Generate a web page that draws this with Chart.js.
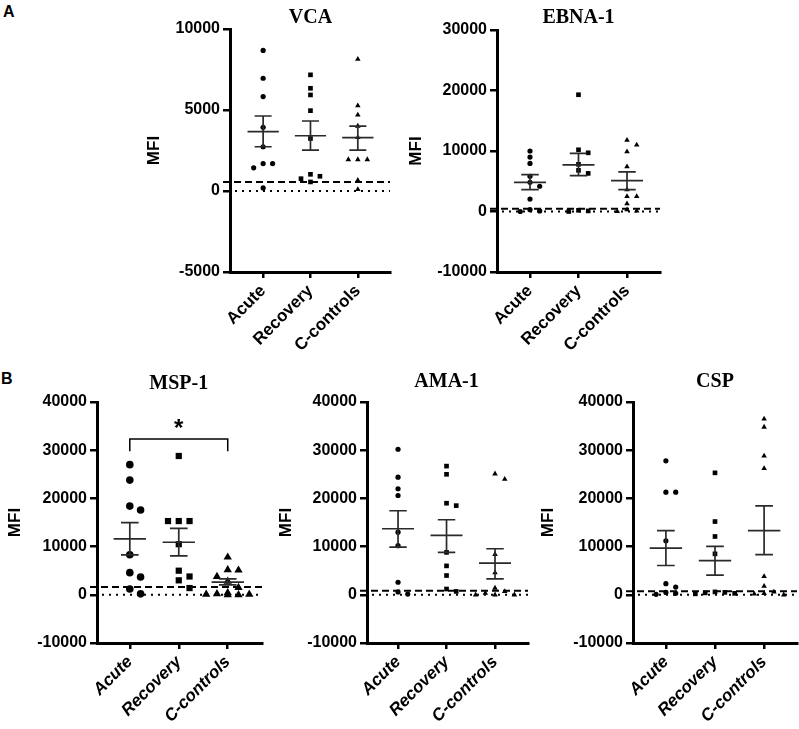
<!DOCTYPE html>
<html>
<head>
<meta charset="utf-8">
<script src="https://cdn.jsdelivr.net/npm/chart.js@4.4.1/dist/chart.umd.min.js"></script>
<style>
  body { margin: 0; background: #fff; width: 799px; height: 729px; overflow: hidden; position: relative; }
  canvas { position: absolute; }
  .letter { position: absolute; font: bold 16px "Liberation Sans", Arial, sans-serif; line-height: 16px; color: #000; }
</style>
</head>
<body>
<div class="letter" style="left:3px;top:4px">A</div>
<div class="letter" style="left:1px;top:371px">B</div>
<canvas id="vca"></canvas>
<canvas id="ebna"></canvas>
<canvas id="msp"></canvas>
<canvas id="ama"></canvas>
<canvas id="csp"></canvas>
<script>
const groups = ["Acute", "Recovery", "C-controls"];

// VCA
const vcaAcute = [8680, 6960, 5830, 3930, 2730, 1690, 1690, 1430, 190];
const vcaRecovery = [7170, 6340, 5930, 4960, 3240, 1030, 910, 760, 560];
const vcaControls = [8140, 5270, 4690, 4010, 3310, 1940, 1940, 1940, 660, 100];
const vcaMean = [3660, 3410, 3290];
const vcaSemHigh = [4630, 4320, 4010];
const vcaSemLow = [2730, 2520, 2520];
const vcaCutoff = 560;

// EBNA-1
const ebnaAcute = [10000, 9000, 7940, 5830, 4830, 4170, 2060, 300, 100, 0];
const ebnaRecovery = [19300, 10200, 9700, 7800, 6800, 6300, 200, 100, 0];
const ebnaControls = [11800, 11000, 9900, 7400, 3600, 2500, 2500, 1300, 300, 100, 0];
const ebnaMean = [4830, 7720, 5110];
const ebnaSemHigh = [6110, 9610, 6560];
const ebnaSemLow = [3610, 5940, 3610];
const ebnaCutoff = 450;

// MSP-1
const mspAcute = [27000, 23800, 18400, 17600, 8300, 4600, 3700, 1200, 200];
const mspRecovery = [28800, 15300, 15300, 15300, 10500, 5000, 3800, 3000, 1400];
const mspControls = [7800, 5200, 5100, 3800, 2800, 1500, 400, 200, 100, 100, 0, 0];
const mspMean = [11590, 10900, 2620];
const mspSemHigh = [14970, 13790, 3310];
const mspSemLow = [8280, 8070, 2070];
const mspCutoff = 1600;
const mspBracket = { from: 1, to: 3, top: 32300, leg: 29800, label: "*", labelAt: 35200 };

// AMA-1
const amaAcute = [30200, 24400, 22000, 20600, 13000, 10200, 2600, 600, 150];
const amaRecovery = [26700, 25000, 19000, 18500, 8800, 6000, 4000, 1200, 700];
const amaControls = [25100, 24000, 8400, 4600, 1400, 700, 350, 0, 0, 0];
const amaMean = [13700, 12320, 6570];
const amaSemHigh = [17440, 15570, 9550];
const amaSemLow = [9900, 8790, 3320];
const amaCutoff = 830;

// CSP
const cspAcute = [27800, 21300, 21300, 11200, 2300, 1600, 500, 300, 100];
const cspRecovery = [25300, 15200, 12100, 8500, 600, 500, 400, 300, 200];
const cspControls = [36500, 34800, 28800, 26200, 3800, 1800, 600, 300, 200, 0];
const cspMean = [9690, 7100, 13310];
const cspSemHigh = [13310, 10030, 18430];
const cspSemLow = [6080, 4100, 8330];
const cspCutoff = 750;

const shapes = ["circle", "rect", "triangle"];
const sans = "'Liberation Sans', Arial, sans-serif";
const tickFont = { family: sans, weight: "bold", size: 16 };

// simple beeswarm: spread points sideways when they would overlap
function swarm(values, step, thresh) {
  const offsets = [0, step, -step, 2 * step, -2 * step];
  const placed = [];
  return values.map((v) => {
    let best = 0, bestGap = -1;
    for (const o of offsets) {
      let gap = Infinity;
      for (const p of placed) if (p.o === o) gap = Math.min(gap, Math.abs(p.v - v));
      if (gap >= thresh) { best = o; break; }
      if (gap > bestGap) { bestGap = gap; best = o; }
    }
    placed.push({ o: best, v: v });
    return best;
  });
}

const markers = {
  id: "markers",
  beforeDatasetsDraw(chart, args, o) {
    const { ctx, chartArea: a, scales: { y } } = chart;
    ctx.save();
    ctx.strokeStyle = "#000";
    ctx.lineWidth = 2;
    ctx.setLineDash([2, 5]);
    const y0 = y.getPixelForValue(0);
    ctx.beginPath(); ctx.moveTo(a.left + 5, y0); ctx.lineTo(a.right, y0); ctx.stroke();
    ctx.setLineDash([7, 4]);
    const yc = y.getPixelForValue(o.cutoff);
    ctx.beginPath(); ctx.moveTo(a.left - 7, yc); ctx.lineTo(a.right, yc); ctx.stroke();
    ctx.restore();
  },
  afterDatasetsDraw(chart, args, o) {
    const { ctx, scales: { x, y } } = chart;
    ctx.save();
    ctx.strokeStyle = "#2a2a2a";
    ctx.lineWidth = 1.7;
    o.mean.forEach((m, i) => {
      const c = i + 1;
      const ym = y.getPixelForValue(m), yh = y.getPixelForValue(o.high[i]), yl = y.getPixelForValue(o.low[i]);
      ctx.beginPath();
      ctx.moveTo(x.getPixelForValue(c - 0.33), ym); ctx.lineTo(x.getPixelForValue(c + 0.33), ym);
      ctx.moveTo(x.getPixelForValue(c), yh); ctx.lineTo(x.getPixelForValue(c), yl);
      ctx.moveTo(x.getPixelForValue(c - 0.18), yh); ctx.lineTo(x.getPixelForValue(c + 0.18), yh);
      ctx.moveTo(x.getPixelForValue(c - 0.18), yl); ctx.lineTo(x.getPixelForValue(c + 0.18), yl);
      ctx.stroke();
    });
    if (o.bracket) {
      const b = o.bracket;
      const x1 = x.getPixelForValue(b.from), x2 = x.getPixelForValue(b.to);
      const yt = y.getPixelForValue(b.top), yl = y.getPixelForValue(b.leg);
      ctx.strokeStyle = "#000";
      ctx.lineWidth = 1.5;
      ctx.beginPath();
      ctx.moveTo(x1, yl); ctx.lineTo(x1, yt); ctx.lineTo(x2, yt); ctx.lineTo(x2, yl);
      ctx.stroke();
      ctx.fillStyle = "#000";
      ctx.font = "bold 24px " + sans;
      ctx.textAlign = "center";
      ctx.textBaseline = "middle";
      ctx.fillText(b.label, (x1 + x2) / 2, y.getPixelForValue(b.labelAt) + 4);
    }
    ctx.fillStyle = "#000";
    ctx.font = "bold 20px 'Liberation Serif'";
    ctx.textAlign = "center";
    ctx.textBaseline = "middle";
    ctx.fillText(o.title, x.getPixelForValue(2), o.titleY);
    ctx.restore();
  },
};

function drawPanel(id, p) {
  const canvas = document.getElementById(id);
  canvas.width = p.width;
  canvas.height = p.height;
  canvas.style.left = p.left + "px";
  canvas.style.top = p.top + "px";
  const a = p.area;
  const half = 10;
  const yWidth = a.l - p.mfiX + half;
  const xHeight = p.top + p.height - a.b;
  const thresh = (p.dot * (p.yMax - p.yMin)) / (a.b - a.t);

  const datasets = p.series.map((vals, i) => {
    const offs = swarm(vals, p.step, thresh);
    return {
      data: vals.map((v, j) => ({ x: i + 1 + offs[j], y: v })),
      pointStyle: shapes[i],
      pointRadius: p.radius[i],
      pointHoverRadius: p.radius[i],
      backgroundColor: "#000",
      borderColor: "#000",
      borderWidth: 0,
    };
  });

  new Chart(canvas, {
    type: "scatter",
    data: { datasets: datasets },
    plugins: [markers],
    options: {
      responsive: false,
      animation: false,
      layout: { padding: { left: p.mfiX - half - p.left, top: a.t - p.top, right: p.left + p.width - a.r, bottom: 0 } },
      plugins: {
        legend: { display: false },
        title: { display: false },
        tooltip: { enabled: false },
        markers: {
          title: p.title,
          titleY: p.titleY - p.top,
          cutoff: p.cutoff,
          mean: p.mean,
          high: p.high,
          low: p.low,
          bracket: p.bracket,
        },
      },
      scales: {
        x: {
          type: "linear",
          min: p.xMin,
          max: p.xMax,
          afterBuildTicks: (s) => { s.ticks = [1, 2, 3].map((v) => ({ value: v })); },
          afterFit: (s) => { s.height = xHeight; },
          ticks: {
            autoSkip: false,
            minRotation: 45,
            maxRotation: 45,
            padding: 3,
            color: "#000",
            font: { family: sans, weight: "bold", size: 17, style: p.italic ? "italic" : "normal" },
            callback: (v) => groups[Math.round(v) - 1],
          },
          grid: { drawOnChartArea: false, tickLength: 6, color: "#000", lineWidth: 2.5 },
          border: { display: true, color: "#000", width: 3 },
        },
        y: {
          min: p.yMin,
          max: p.yMax,
          afterFit: (s) => { s.width = yWidth; },
          ticks: { stepSize: p.yStep, padding: 3, color: "#000", font: tickFont, callback: (v) => v },
          grid: { drawOnChartArea: false, tickLength: 7, color: "#000", lineWidth: 2.5 },
          border: { display: true, color: "#000", width: 3 },
          title: { display: true, text: "MFI", padding: 0, color: "#000", font: { family: sans, weight: "bold", size: 17 } },
        },
      },
    },
  });
}

drawPanel("vca", {
  left: 130, top: 0, width: 270, height: 370, area: { l: 230, t: 29, r: 390, b: 272 }, mfiX: 154,
  xMin: 0.3, xMax: 3.68, yMin: -5000, yMax: 10000, yStep: 5000,
  title: "VCA", titleY: 18, series: [vcaAcute, vcaRecovery, vcaControls],
  mean: vcaMean, high: vcaSemHigh, low: vcaSemLow, cutoff: vcaCutoff,
  radius: [2.6, 3.3, 3.2], dot: 6, step: 0.2, italic: false,
});
drawPanel("ebna", {
  left: 400, top: 0, width: 270, height: 370, area: { l: 497, t: 30, r: 660, b: 272 }, mfiX: 416,
  xMin: 0.32, xMax: 3.68, yMin: -10000, yMax: 30000, yStep: 10000,
  title: "EBNA-1", titleY: 18, series: [ebnaAcute, ebnaRecovery, ebnaControls],
  mean: ebnaMean, high: ebnaSemHigh, low: ebnaSemLow, cutoff: ebnaCutoff,
  radius: [2.6, 3.3, 3.2], dot: 6, step: 0.2, italic: false,
});
drawPanel("msp", {
  left: 0, top: 370, width: 270, height: 359, area: { l: 97, t: 402, r: 262, b: 643 }, mfiX: 15,
  xMin: 0.33, xMax: 3.7, yMin: -10000, yMax: 40000, yStep: 10000,
  title: "MSP-1", titleY: 384, series: [mspAcute, mspRecovery, mspControls],
  mean: mspMean, high: mspSemHigh, low: mspSemLow, cutoff: mspCutoff, bracket: mspBracket,
  radius: [3.8, 4.4, 4.8], dot: 9, step: 0.22, italic: true,
});
drawPanel("ama", {
  left: 270, top: 370, width: 265, height: 359, area: { l: 367, t: 402, r: 528, b: 643 }, mfiX: 286,
  xMin: 0.36, xMax: 3.68, yMin: -10000, yMax: 40000, yStep: 10000,
  title: "AMA-1", titleY: 382, series: [amaAcute, amaRecovery, amaControls],
  mean: amaMean, high: amaSemHigh, low: amaSemLow, cutoff: amaCutoff,
  radius: [2.6, 3.3, 3.2], dot: 6, step: 0.2, italic: true,
});
drawPanel("csp", {
  left: 530, top: 370, width: 280, height: 359, area: { l: 633, t: 402, r: 797, b: 643 }, mfiX: 548,
  xMin: 0.33, xMax: 3.67, yMin: -10000, yMax: 40000, yStep: 10000,
  title: "CSP", titleY: 382, series: [cspAcute, cspRecovery, cspControls],
  mean: cspMean, high: cspSemHigh, low: cspSemLow, cutoff: cspCutoff,
  radius: [2.6, 3.3, 3.2], dot: 6, step: 0.2, italic: true,
});
</script>
</body>
</html>
